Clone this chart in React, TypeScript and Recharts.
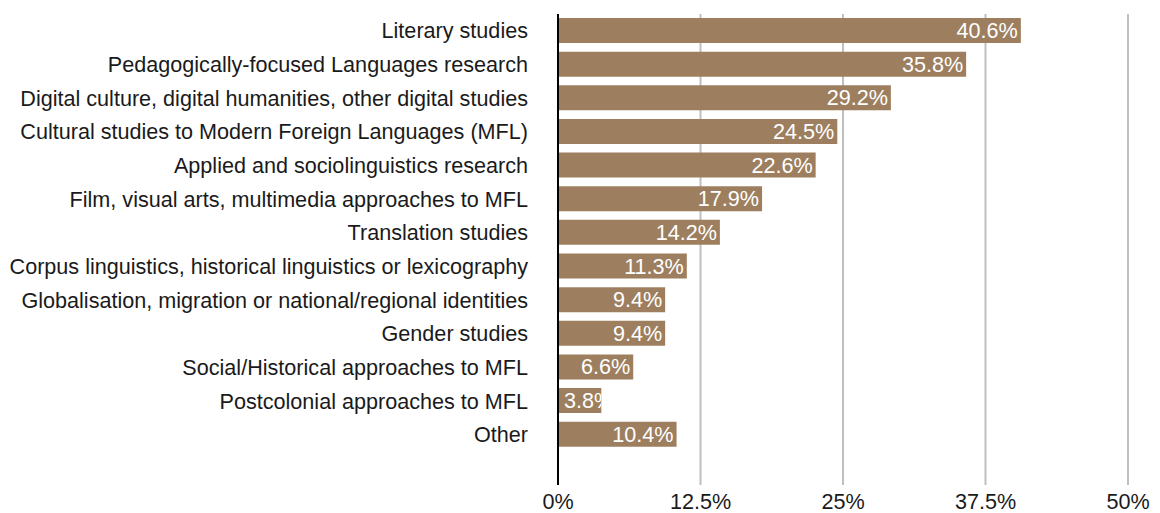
import React from 'react';
import { BarChart, Bar, XAxis, YAxis, CartesianGrid, LabelList } from 'recharts';

// Research areas, top to bottom; the last empty slot leaves the gap above the axis
const categories = [
  'Literary studies',
  'Pedagogically-focused Languages research',
  'Digital culture, digital humanities, other digital studies',
  'Cultural studies to Modern Foreign Languages (MFL)',
  'Applied and sociolinguistics research',
  'Film, visual arts, multimedia approaches to MFL',
  'Translation studies',
  'Corpus linguistics, historical linguistics or lexicography',
  'Globalisation, migration or national/regional identities',
  'Gender studies',
  'Social/Historical approaches to MFL',
  'Postcolonial approaches to MFL',
  'Other',
  '',
];

const shares: (number | null)[] = [40.6, 35.8, 29.2, 24.5, 22.6, 17.9, 14.2, 11.3, 9.4, 9.4, 6.6, 3.8, 10.4, null];

const xTicks = [0, 12.5, 25, 37.5, 50];

const data = categories.map((name, i) => ({ name, value: shares[i] }));

const FONT = '"Liberation Sans", Arial, sans-serif';
const FONT_SIZE = 21.6;
const BAR_COLOR = '#9d7f5f';

// white value label at the end of the bar, clipped to the bar when it does not fit
function ValueLabel(props: any) {
  const { x, y, width, height, value, index } = props;
  if (value == null) return null;
  const text = `${value}%`;
  const textWidth = text.length * 12.5;
  const fits = textWidth + 6 <= width;
  const id = `clip-${index}`;
  return (
    <g>
      <defs>
        <clipPath id={id}>
          <rect x={x} y={y} width={width} height={height} />
        </clipPath>
      </defs>
      <text
        x={fits ? x + width - 3 : x + 6}
        y={y + height / 2}
        dy="0.35em"
        textAnchor={fits ? 'end' : 'start'}
        fill="#ffffff"
        fontSize={FONT_SIZE}
        fontFamily={FONT}
        clipPath={`url(#${id})`}
      >
        {text}
      </text>
    </g>
  );
}

export default function App() {
  return (
    <div style={{ position: 'absolute', left: 0, top: 0, background: '#fff' }}>
      <BarChart
        width={1160}
        height={513}
        data={data}
        layout="vertical"
        margin={{ top: 14, right: 32, left: 0, bottom: 0 }}
        barCategoryGap={8}
      >
        <CartesianGrid horizontal={false} stroke="#bfbfbf" strokeWidth={2} />
        <XAxis
          type="number"
          domain={[0, 50]}
          ticks={xTicks}
          tickFormatter={(v: number) => `${v}%`}
          axisLine={false}
          tickLine={false}
          tickSize={0}
          tickMargin={9}
          height={28}
          tick={{ fill: '#1a1a1a', fontSize: FONT_SIZE, fontFamily: FONT }}
          interval={0}
        />
        <YAxis
          type="category"
          dataKey="name"
          width={558}
          axisLine={{ stroke: '#000000', strokeWidth: 2 }}
          tickLine={false}
          tickSize={0}
          tickMargin={30}
          interval={0}
          tick={{ fill: '#1a1a1a', fontSize: FONT_SIZE, fontFamily: FONT }}
        />
        <Bar dataKey="value" fill={BAR_COLOR} barSize={25} isAnimationActive={false}>
          <LabelList dataKey="value" content={<ValueLabel />} />
        </Bar>
      </BarChart>
    </div>
  );
}
